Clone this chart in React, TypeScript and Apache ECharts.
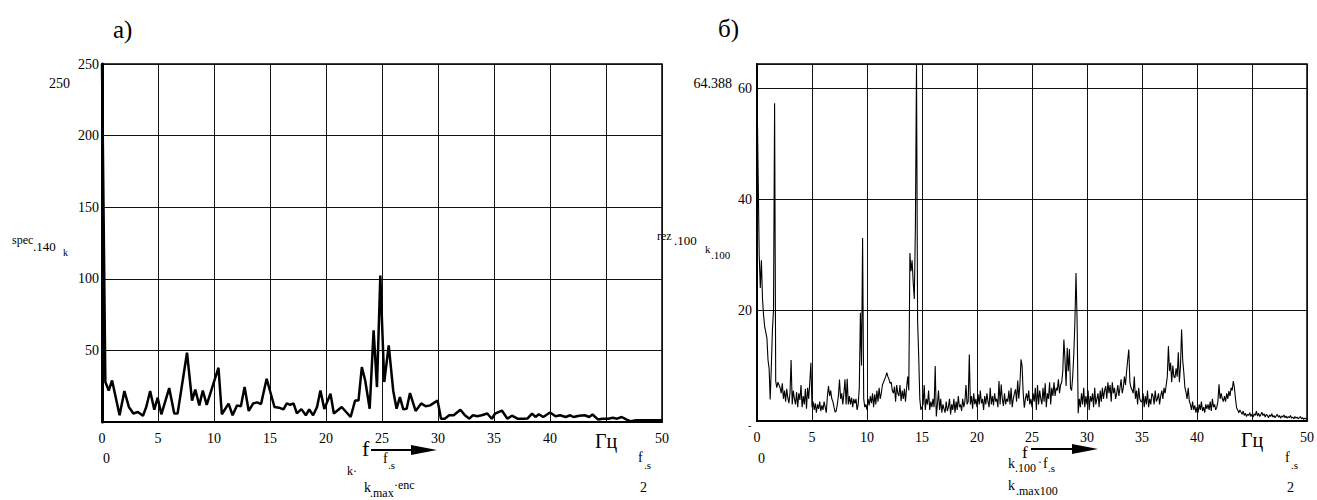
import React, { useEffect, useRef } from "react";
import * as echarts from "echarts";

// ---- data: panel a) spec.140 (frequency Hz, amplitude) ----
const specFreq = [0, 0.3, 0.6, 0.9, 1.57, 2.0, 2.4, 2.8, 3.2, 3.66, 3.95, 4.3, 4.67, 4.97, 5.3, 6.0, 6.45, 6.75, 7.59, 8.04, 8.33, 8.69, 9.0, 9.35, 10.4, 10.7, 11.3, 11.66, 12.05, 12.4, 12.73, 13.1, 13.5, 13.85, 14.2, 14.7, 15.4, 15.8, 16.2, 16.5, 16.8, 17.1, 17.4, 17.8, 18.2, 18.5, 18.85, 19.2, 19.5, 19.85, 20.4, 20.7, 21.4, 22.2, 22.6, 22.9, 23.2, 23.5, 23.9, 24.25, 24.55, 24.85, 25.2, 25.6, 26.0, 26.3, 26.6, 26.9, 27.2, 27.5, 28.0, 28.5, 28.9, 29.3, 29.96, 30.27, 30.6, 31.0, 31.4, 32.0, 32.4, 32.8, 33.1, 33.5, 33.9, 34.4, 34.8, 35.1, 35.7, 36.2, 36.6, 37.1, 37.6, 38.0, 38.4, 38.7, 39.0, 39.4, 40.0, 40.5, 40.9, 41.4, 41.8, 42.1, 42.6, 43.1, 43.5, 43.8, 44.3, 44.7, 45.2, 45.6, 46.0, 46.4, 46.8, 47.2, 47.7, 48.5, 50];
const specAmp = [250, 27.9, 22, 29, 4.7, 21.6, 10.5, 5.9, 7, 4.4, 10.5, 21.6, 8.6, 17, 5.4, 23.7, 5.9, 5.9, 48.4, 15, 22.6, 11.6, 22, 12, 37.9, 5.4, 12.8, 4.7, 11.6, 11, 24.4, 7.7, 13, 13.7, 12.5, 30.2, 10.5, 10, 8.8, 13, 12, 13, 6, 9, 4.7, 8.8, 4.7, 10.5, 22, 9, 19.8, 5.9, 10.5, 3.5, 15, 15, 38.4, 29, 9.3, 64, 24.4, 102.3, 27.9, 53.5, 22, 9.3, 17.4, 8.8, 9.3, 20.2, 7.7, 13, 11, 11.6, 15, 2.3, 2.3, 4.7, 4.7, 8.6, 4.7, 2.3, 4.7, 4, 4.7, 5.9, 2.3, 5.9, 8, 2.3, 4.4, 2.3, 2.3, 2.5, 5.9, 3.5, 5.4, 3.5, 6.6, 4, 4.7, 3.5, 4.7, 3.5, 4.4, 4.7, 3.5, 5.2, 1.7, 2.3, 2.3, 2.9, 2.3, 3.5, 1.9, 0.5, 1.2, 1.2, 1.2];

// ---- data: panel б) rez.100, one value every 0.1 Hz from 0 to 50 ----
const rezStep = 0.1;
const rezAmp = [
  60, 45, 30, 24, 29, 22, 19, 17, 16, 15,
  11, 9.5, 3.9, 9.6, 16.3, 20, 57.3, 7.2, 6, 7,
  6.5, 6, 5, 6.8, 4, 5.5, 3.5, 5.8, 4.2, 3.2,
  5, 11, 3, 5.5, 4, 3, 5.2, 2.5, 5, 3.8,
  6.5, 2.5, 4.5, 3, 5.8, 2.2, 6, 4, 7, 10.5,
  2.5, 3.5, 2, 3.2, 1.5, 3, 2.2, 3.5, 1.8, 2.8,
  2, 3.5, 2.5, 1.5, 4.5, 6.3, 4.5, 5.5, 4, 3.5,
  2.5, 1.6, 1.8, 3, 4.5, 7.5, 4, 5, 3, 5,
  7.5, 3, 7.6, 3, 4.5, 3, 4.2, 2.5, 4, 3.2,
  4, 2, 3, 6, 19.5, 10, 33, 4, 2.5, 3,
  2, 4, 2.8, 4.5, 3.2, 5, 2.5, 4.8, 3, 5.5,
  3.5, 6, 4, 5, 6.5, 7, 7.5, 8, 8.7, 8,
  7.5, 6.8, 7, 5.5, 5, 6.2, 3.5, 6.5, 5, 4.5,
  6.5, 3.6, 5.5, 4, 5.8, 3.5, 6, 8, 5.5, 30.3,
  27, 29, 25, 22, 35, 64.388, 18, 11.7, 4, 2,
  2.5, 3, 6.5, 2, 4, 3, 5.5, 2, 3.5, 2.5,
  4, 2.5, 9.9, 0.8, 3, 5.5, 2, 4, 1.5, 3,
  2.2, 1.5, 3.5, 1.8, 2.5, 4, 1.2, 3, 2, 4,
  1.5, 3.5, 2, 4.5, 2.5, 3, 1.8, 4, 2.5, 3.5,
  6.5, 3, 3.5, 12, 3, 4.5, 2.2, 5, 3, 4,
  2.5, 4.8, 3, 5.5, 3.2, 4, 2, 4.5, 3, 5,
  3.5, 2.5, 6, 3, 4.5, 2.8, 5, 3.5, 4, 2.5,
  7.2, 3, 6.6, 4, 2.7, 5, 3, 4, 3.5, 5.5,
  3, 6, 2.5, 4, 5, 5.7, 3.5, 7.3, 4, 6.5,
  11.1, 9.9, 5, 2.4, 4, 5, 3.6, 5.5, 3, 4,
  2.5, 5, 3.5, 6, 2, 6.5, 3, 5.5, 4, 3,
  6, 3.5, 6.8, 2.5, 5, 4, 7, 3, 6, 4.5,
  7, 4.5, 6, 5.5, 7.5, 5, 6.5, 7, 9, 14.7,
  11, 6.3, 13.2, 9, 13, 6, 5.5, 8, 12, 18,
  26.7, 18, 1.4, 4, 2.5, 5, 3, 6, 2.5, 4.5,
  3, 5.5, 2, 4.5, 3.5, 5, 2.5, 6, 3, 4,
  5, 2.5, 5.5, 3.5, 6, 4, 5.5, 6.3, 4, 7,
  5, 6.5, 3.5, 7, 5, 6, 4, 5, 6.5, 4.5,
  6, 7.5, 5, 6, 8, 6.5, 9, 11, 12.9, 7,
  6, 5.6, 5, 8, 4, 5.5, 3, 6, 4, 3.5,
  3.5, 5, 2.5, 4.5, 3, 5.5, 2.5, 4, 3, 5,
  4.5, 3, 5.5, 3.5, 4, 5, 3, 4.5, 5.5, 4,
  6, 5, 6.5, 8, 13.5, 9, 10.5, 7, 10, 8,
  7.8, 9.5, 8, 12.4, 7, 10, 16.5, 11, 8.8, 6,
  5.2, 4, 6, 3.6, 3, 2, 3.5, 2, 2.8, 1.5,
  2.5, 1.5, 3, 2, 3.5, 1.8, 2.5, 1.5, 3, 2.2,
  3, 2, 3.5, 1.8, 4, 2.5, 3, 2, 2.5, 3.5,
  6.6, 4, 5, 4, 3.5, 4.5, 3.5, 5, 4, 5.4,
  4.5, 6, 5.5, 7.2, 6, 4, 2.4, 2, 1.5, 2,
  1.6, 1.2, 1.8, 1, 1.4, 0.8, 1.2, 1, 1.5, 0.8,
  1.2, 0.7, 1.3, 1, 1.8, 0.9, 1.4, 0.8, 1.1, 1.6,
  1, 1.3, 0.7, 1.2, 1, 0.6, 1.1, 0.8, 1.3, 0.7,
  1, 0.6, 0.9, 1.2, 0.7, 1, 0.5, 0.9, 0.7, 1.1,
  0.6, 0.9, 0.5, 0.8, 0.6, 1, 0.5, 0.7, 0.4, 0.8,
  0.5, 0.7, 0.4, 0.6, 0.8, 0.4, 0.6, 0.3, 0.5, 0.4,
  0.4,
];

// ---- axis settings ----
const xMin = 0;
const xMax = 50;
const xInterval = 5;
const unitTick = 45; // tick whose label is replaced by the unit
const unitLabel = "Гц";
const specMax = 250;
const specInterval = 50;
const rezMax = 64.388;
const rezInterval = 20;

const FONT = "Liberation Serif";

function txt(text: string, x: number, y: number, size: number, align: string = "left") {
  return {
    type: "text",
    x,
    y,
    silent: true,
    style: {
      text,
      x: 0,
      y: 0,
      fill: "#000",
      font: size + "px " + FONT,
      fontSize: size,
      fontFamily: FONT,
      align,
      verticalAlign: "middle",
      textAlign: align,
      textVerticalAlign: "middle",
    },
  };
}

function arrow(x0: number, x1: number, y: number) {
  return [
    { type: "line", silent: true, shape: { x1: x0, y1: y, x2: x1 - 20, y2: y }, style: { stroke: "#000", lineWidth: 2 } },
    { type: "polygon", silent: true, shape: { points: [[x1 - 26, y - 5], [x1, y], [x1 - 26, y + 5]] }, style: { fill: "#000" } },
  ];
}

function xAxisFor(gridIndex: number) {
  return {
    type: "value",
    gridIndex,
    min: xMin,
    max: xMax,
    interval: xInterval,
    axisLine: { show: true, onZero: false, lineStyle: { color: "#000", width: 2 } },
    axisTick: { show: false },
    splitLine: { show: true, lineStyle: { color: "#111", width: 1 } },
    axisLabel: {
      margin: 9,
      color: "#000",
      fontFamily: FONT,
      fontSize: 14,
      formatter: (v: number) => (v === unitTick ? "{u|" + unitLabel + "}" : String(v)),
      rich: { u: { fontSize: 20, fontFamily: FONT, color: "#000" } },
    },
  };
}

export default function App() {
  const ref = useRef<HTMLDivElement>(null);
  useEffect(() => {
    if (!ref.current) return;
    const chart = echarts.init(ref.current, null, { renderer: "svg" });
    const specData = specFreq.map((f, i) => [f, specAmp[i]]);
    const rezData = rezAmp.map((v, i) => [Number((i * rezStep).toFixed(1)), v]);

    const graphics: any[] = [
      txt("а)", 113, 29, 25),
      txt("б)", 718, 28, 25),
      // panel a) extra labels
      txt("250", 70, 83, 14, "right"),
      txt("spec", 12, 240, 12),
      txt(".140", 33, 246, 13),
      txt("k", 63, 252, 10),
      txt("0", 103, 458, 14),
      txt("f", 638, 457, 14),
      txt(".s", 644, 465, 11),
      txt("2", 640, 487, 14),
      txt("f", 362, 448, 22),
      ...arrow(371, 437, 450),
      txt("f", 383, 458, 14),
      txt(".s", 388, 465, 11),
      txt("k·", 347, 471, 12),
      txt("k", 364, 487, 14),
      txt(".max", 370, 493, 12),
      txt("·enc", 394, 485, 12),
      // panel б) extra labels
      txt("64.388", 732, 83, 14, "right"),
      txt("-", 748, 425, 10),
      txt("rez", 657, 236, 12),
      txt(".100", 674, 240, 13),
      txt("k", 705, 249, 11),
      txt(".100", 711, 255, 11),
      txt("0", 758, 458, 14),
      txt("f", 1285, 457, 14),
      txt(".s", 1291, 465, 11),
      txt("2", 1287, 487, 14),
      txt("f", 1022, 452, 17),
      ...arrow(1031, 1098, 449),
      txt("k", 1008, 463, 14),
      txt(".100", 1015, 468, 12),
      txt("·", 1038, 462, 12),
      txt("f", 1043, 463, 14),
      txt(".s", 1048, 468, 11),
      txt("k", 1008, 485, 14),
      txt(".max100", 1016, 491, 12),
    ];

    chart.setOption({
      animation: false,
      backgroundColor: "#fff",
      textStyle: { fontFamily: FONT, color: "#000" },
      grid: [
        { left: 102, top: 64, width: 560, height: 358, show: true, borderColor: "#000", borderWidth: 1.5, backgroundColor: "transparent" },
        { left: 757, top: 64, width: 551, height: 357, show: true, borderColor: "#000", borderWidth: 1.5, backgroundColor: "transparent" },
      ],
      xAxis: [xAxisFor(0), xAxisFor(1)],
      yAxis: [
        {
          type: "value",
          gridIndex: 0,
          min: 0,
          max: specMax,
          interval: specInterval,
          axisLine: { show: true, lineStyle: { color: "#000", width: 3 } },
          axisTick: { show: false },
          splitLine: { show: true, lineStyle: { color: "#111", width: 1 } },
          axisLabel: {
            margin: 3,
            color: "#000",
            fontFamily: FONT,
            fontSize: 14,
            formatter: (v: number) => (v === 0 ? "" : String(v)),
          },
        },
        {
          type: "value",
          gridIndex: 1,
          min: 0,
          max: rezMax,
          interval: rezInterval,
          axisLine: { show: true, lineStyle: { color: "#000", width: 2 } },
          axisTick: { show: false },
          splitLine: { show: true, lineStyle: { color: "#111", width: 1 } },
          axisLabel: {
            margin: 5,
            color: "#000",
            fontFamily: FONT,
            fontSize: 14,
            showMaxLabel: false,
            formatter: (v: number) => (v !== 0 && Math.abs(v % rezInterval) < 1e-9 ? String(v) : ""),
          },
        },
      ],
      series: [
        {
          type: "line",
          xAxisIndex: 0,
          yAxisIndex: 0,
          data: specData,
          showSymbol: false,
          lineStyle: { color: "#000", width: 2.5 },
          clip: true,
        },
        {
          type: "line",
          xAxisIndex: 1,
          yAxisIndex: 1,
          data: rezData,
          showSymbol: false,
          lineStyle: { color: "#000", width: 1.1 },
          clip: true,
        },
      ],
      graphic: graphics,
    });
    return () => chart.dispose();
  }, []);
  return <div ref={ref} style={{ position: "absolute", left: 0, top: 0, width: 1317, height: 500 }} />;
}
